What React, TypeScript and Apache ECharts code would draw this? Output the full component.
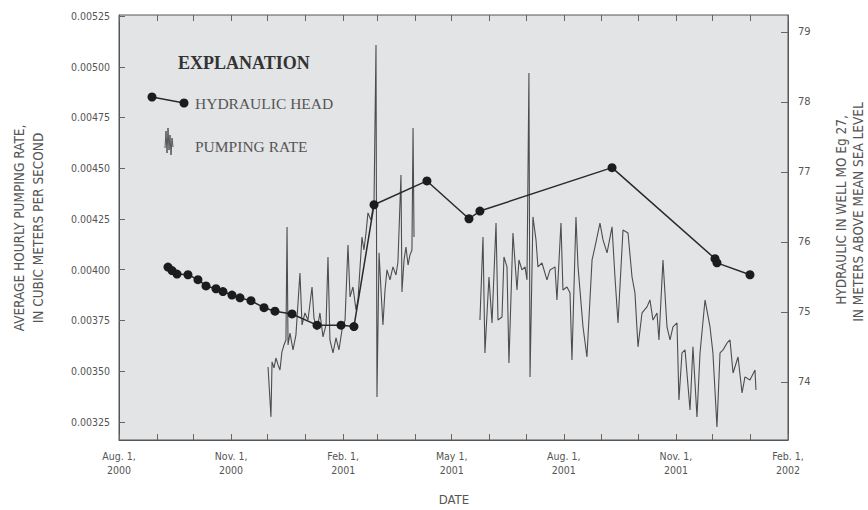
import React, { useEffect, useRef } from "react";
import * as echarts from "echarts";

// ---- Data (days since Aug. 1, 2000) ----
const START = Date.UTC(2000, 7, 1);
const DAY = 86400000;

// Pumping rate, segment 1 (Dec 2000 - Apr 2001)
const pumpDays1 = [
  122.3, 123.9, 124.7, 125.6, 127.2, 128.8, 130.5, 132.1, 133.7, 135.4, 137.0, 137.9, 138.7, 140.3,
  142.8, 145.2, 148.5, 150.2, 152.6, 155.1, 158.4, 160.0, 162.5, 164.9, 167.4, 169.9, 171.5, 173.1,
  175.6, 178.1, 180.5, 183.0, 185.5, 187.9, 189.6, 192.0, 194.5, 196.1, 199.4, 201.0, 202.7, 204.3,
  206.8, 209.3, 210.9, 211.7, 213.4, 215.0, 216.6, 218.3, 219.9, 222.4, 224.8, 227.3, 228.9, 231.4,
  232.2, 233.9, 235.5, 237.2, 238.8, 240.4, 241.3, 242.1,
];
const pumpRate1 = [
  0.003521, 0.003358, 0.003275, 0.003546, 0.003516, 0.003565, 0.003531, 0.003506, 0.003595, 0.003629,
  0.003654, 0.004211, 0.003629, 0.003688, 0.003605, 0.003679, 0.003984, 0.003728, 0.003787, 0.003752,
  0.003915, 0.003762, 0.003703, 0.003787, 0.003669, 0.003728, 0.004063, 0.003654, 0.00359, 0.003664,
  0.003605, 0.003703, 0.003752, 0.004122, 0.003866, 0.003915, 0.003802, 0.003851, 0.004161, 0.004097,
  0.004181, 0.00428, 0.004245, 0.004344, 0.005107, 0.003373, 0.004083, 0.0039, 0.003728, 0.0039,
  0.003999, 0.00395, 0.004014, 0.003974, 0.004038, 0.004467, 0.00389, 0.004048, 0.004112, 0.004023,
  0.004073, 0.004097, 0.004698, 0.004161,
];

// Pumping rate, segment 2 (May 2001 - Jan 2002)
const pumpDays2 = [
  296.2, 298.7, 300.3, 303.6, 306.1, 309.4, 311.0, 314.3, 315.9, 318.4, 320.0, 323.3, 326.6, 328.2,
  330.7, 333.2, 334.8, 336.4, 337.3, 339.7, 342.2, 343.8, 347.1, 351.2, 353.7, 357.8, 359.4, 362.7,
  364.3, 367.6, 370.1, 371.7, 375.0, 376.7, 380.8, 384.0, 388.2, 390.6, 394.7, 397.2, 400.5, 404.6,
  407.0, 409.5, 413.6, 417.7, 421.0, 423.4, 425.9, 429.2, 433.3, 435.7, 438.2, 441.5, 443.1, 446.4,
  449.7, 452.2, 454.6, 457.9, 459.5, 462.0, 464.5, 468.6, 471.0, 474.3, 476.8, 480.9, 485.0, 487.4,
  490.7, 493.2, 495.7, 499.0, 501.4, 503.9, 508.0, 511.3, 513.7, 517.8, 521.9, 522.7,
];
const pumpRate2 = [
  0.003752, 0.004161, 0.00359, 0.003964, 0.003738, 0.00423, 0.003752, 0.003767, 0.004063, 0.004014,
  0.003541, 0.004181, 0.0039, 0.004048, 0.003999, 0.004014, 0.00395, 0.004969, 0.003472, 0.00426,
  0.004147, 0.004014, 0.004033, 0.00395, 0.003999, 0.004014, 0.003851, 0.00423, 0.0039, 0.003915,
  0.003886, 0.003555, 0.00426, 0.004014, 0.003718, 0.00357, 0.004048, 0.004112, 0.00423, 0.004147,
  0.004083, 0.004211, 0.003964, 0.003738, 0.004196, 0.004181, 0.003964, 0.003886, 0.00362, 0.003787,
  0.003817, 0.003851, 0.003752, 0.003787, 0.003654, 0.004048, 0.003718, 0.003654, 0.003718, 0.003738,
  0.003358, 0.00359, 0.003605, 0.003309, 0.00362, 0.003275, 0.00359, 0.003851, 0.003718, 0.00359,
  0.003225, 0.00359, 0.003605, 0.003639, 0.003654, 0.003491, 0.00357, 0.003393, 0.003472, 0.003457,
  0.003506, 0.003408,
];

// Hydraulic head (m above mean sea level)
const headDays = [
  40.2, 43.5, 47.6, 56.6, 64.8, 71.4, 79.6, 85.3, 92.7, 99.3, 108.3, 119.0, 128.0, 142.0, 162.5,
  182.2, 192.8, 209.3, 252.7, 287.2, 296.2, 404.6, 489.1, 490.7, 517.8,
];
const headValues = [
  75.64, 75.59, 75.54, 75.53, 75.46, 75.37, 75.33, 75.29, 75.24, 75.2, 75.16, 75.06, 75.01, 74.97,
  74.81, 74.81, 74.79, 76.53, 76.87, 76.33, 76.44, 77.06, 75.76, 75.7, 75.53,
];

// Axis ticks
const xTickDates = ["2000-08-01", "2000-11-01", "2001-02-01", "2001-05-01", "2001-08-01", "2001-11-01", "2002-02-01"];
const xTickLabels = ["Aug. 1,\n2000", "Nov. 1,\n2000", "Feb. 1,\n2001", "May 1,\n2001", "Aug. 1,\n2001", "Nov. 1,\n2001", "Feb. 1,\n2002"];
const leftTicks = [0.00325, 0.0035, 0.00375, 0.004, 0.00425, 0.0045, 0.00475, 0.005, 0.00525];
const rightTicks = [74, 75, 76, 77, 78, 79];

const toTime = (d: number) => START + d * DAY;
const parseDate = (s: string) => {
  const [y, m, d] = s.split("-").map(Number);
  return Date.UTC(y, m - 1, d);
};

const NARROW = '"Liberation Sans Narrow", "DejaVu Sans Condensed", "Roboto Condensed", "Liberation Sans", sans-serif';
const SERIF = '"Liberation Serif", "DejaVu Serif", serif';

export default function App() {
  const ref = useRef<HTMLDivElement>(null);

  useEffect(() => {
    if (!ref.current) return;
    const chart = echarts.init(ref.current, undefined, { renderer: "svg" });

    const monthTicks: number[] = [];
    for (let i = 0; i <= 18; i++) monthTicks.push(Date.UTC(2000, 7 + i, 1));
    const xTicks = xTickDates.map(parseDate);

    const seg1 = pumpDays1.map((d, i) => [toTime(d), pumpRate1[i]]);
    const seg2 = pumpDays2.map((d, i) => [toTime(d), pumpRate2[i]]);
    const head = headDays.map((d, i) => [toTime(d), headValues[i]]);

    const xMin = Date.UTC(2000, 7, 1);
    const xMax = Date.UTC(2002, 1, 1);

    chart.setOption({
      animation: false,
      backgroundColor: "#ffffff",
      grid: {
        left: 119,
        right: 80,
        top: 15,
        bottom: 70,
        show: true,
        backgroundColor: "#e3e4e6",
        borderColor: "#555",
        borderWidth: 1,
      },
      xAxis: [
        {
          type: "value",
          min: xMin,
          max: xMax,
          axisLine: { show: true, lineStyle: { color: "#555", width: 1 } },
          axisTick: { show: true, inside: true, length: 6, customValues: monthTicks, lineStyle: { color: "#666" } },
          axisLabel: {
            customValues: xTicks,
            color: "#555",
            fontFamily: NARROW,
            fontSize: 10.5,
            lineHeight: 14,
            margin: 9,
            formatter: (v: number) => {
              const idx = xTicks.findIndex((t) => Math.abs(t - v) < DAY);
              return idx >= 0 ? xTickLabels[idx] : "";
            },
          },
          splitLine: { show: false },
        },
        {
          type: "value",
          position: "top",
          min: xMin,
          max: xMax,
          axisLine: { show: false },
          axisTick: { show: true, inside: true, length: 6, customValues: monthTicks, lineStyle: { color: "#666" } },
          axisLabel: { show: false },
          splitLine: { show: false },
        },
      ],
      yAxis: [
        {
          type: "value",
          position: "left",
          min: 0.003161,
          max: 0.005255,
          axisLine: { show: true, lineStyle: { color: "#555" } },
          axisTick: { show: true, inside: true, length: 6, customValues: leftTicks, lineStyle: { color: "#666" } },
          axisLabel: {
            customValues: leftTicks,
            color: "#555",
            fontFamily: NARROW,
            fontSize: 10.5,
            margin: 9,
            formatter: (v: number) => v.toFixed(5),
          },
          splitLine: { show: false },
        },
        {
          type: "value",
          position: "right",
          min: 73.17,
          max: 79.24,
          axisLine: { show: true, lineStyle: { color: "#555" } },
          axisTick: { show: true, inside: true, length: 7, customValues: rightTicks, lineStyle: { color: "#666" } },
          axisLabel: {
            customValues: rightTicks,
            color: "#555",
            fontFamily: NARROW,
            fontSize: 11,
            margin: 10,
            formatter: (v: number) => String(Math.round(v)),
          },
          splitLine: { show: false },
        },
      ],
      series: [
        {
          type: "line",
          name: "Pumping rate 1",
          xAxisIndex: 0,
          yAxisIndex: 0,
          data: seg1,
          showSymbol: false,
          symbol: "none",
          lineStyle: { color: "#4d4d4d", width: 1.1 },
          z: 2,
        },
        {
          type: "line",
          name: "Pumping rate 2",
          xAxisIndex: 0,
          yAxisIndex: 0,
          data: seg2,
          showSymbol: false,
          symbol: "none",
          lineStyle: { color: "#4d4d4d", width: 1.1 },
          z: 2,
        },
        {
          type: "line",
          name: "Hydraulic head",
          xAxisIndex: 0,
          yAxisIndex: 1,
          data: head,
          symbol: "circle",
          symbolSize: 9,
          itemStyle: { color: "#1c1c1c" },
          lineStyle: { color: "#2a2a2a", width: 1.5 },
          z: 3,
        },
      ],
      graphic: [
        {
          type: "text",
          x: 19,
          y: 228,
          rotation: Math.PI / 2,
          style: { text: "AVERAGE HOURLY PUMPING RATE,", fill: "#555", font: `13.5px ${NARROW}`, align: "center", verticalAlign: "middle" },
        },
        {
          type: "text",
          x: 38,
          y: 228,
          rotation: Math.PI / 2,
          style: { text: "IN CUBIC METERS PER SECOND", fill: "#555", font: `13.5px ${NARROW}`, align: "center", verticalAlign: "middle" },
        },
        {
          type: "text",
          x: 841,
          y: 210,
          rotation: Math.PI / 2,
          style: { text: "HYDRAULIC IN WELL MO Eg 27,", fill: "#555", font: `13.5px ${NARROW}`, align: "center", verticalAlign: "middle" },
        },
        {
          type: "text",
          x: 858,
          y: 212,
          rotation: Math.PI / 2,
          style: { text: "IN METERS ABOVE MEAN SEA LEVEL", fill: "#555", font: `13.5px ${NARROW}`, align: "center", verticalAlign: "middle" },
        },
        {
          type: "text",
          x: 454,
          y: 499,
          style: { text: "DATE", fill: "#555", font: `13px ${NARROW}`, align: "center", verticalAlign: "middle" },
        },
        {
          type: "text",
          x: 178,
          y: 63,
          style: { text: "EXPLANATION", fill: "#333", font: `bold 18px ${SERIF}`, align: "left", verticalAlign: "middle" },
        },
        {
          type: "line",
          shape: { x1: 152, y1: 97, x2: 184, y2: 103 },
          style: { stroke: "#2a2a2a", lineWidth: 1.5 },
        },
        { type: "circle", shape: { cx: 152, cy: 97, r: 4.5 }, style: { fill: "#1c1c1c" } },
        { type: "circle", shape: { cx: 184, cy: 103, r: 4.5 }, style: { fill: "#1c1c1c" } },
        {
          type: "text",
          x: 195,
          y: 103,
          style: { text: "HYDRAULIC HEAD", fill: "#555", font: `15.5px ${SERIF}`, align: "left", verticalAlign: "middle" },
        },
        {
          type: "polyline",
          shape: {
            points: [
              [165, 148], [166, 131], [167, 153], [168, 128], [169, 150], [170, 135], [171, 155], [172, 138], [173, 147],
            ],
          },
          style: { stroke: "#555", lineWidth: 1, fill: null },
        },
        {
          type: "text",
          x: 195,
          y: 146,
          style: { text: "PUMPING RATE", fill: "#555", font: `15.5px ${SERIF}`, align: "left", verticalAlign: "middle" },
        },
      ],
    });

    return () => chart.dispose();
  }, []);

  return <div ref={ref} style={{ position: "absolute", left: 0, top: 0, width: 868, height: 510 }} />;
}
